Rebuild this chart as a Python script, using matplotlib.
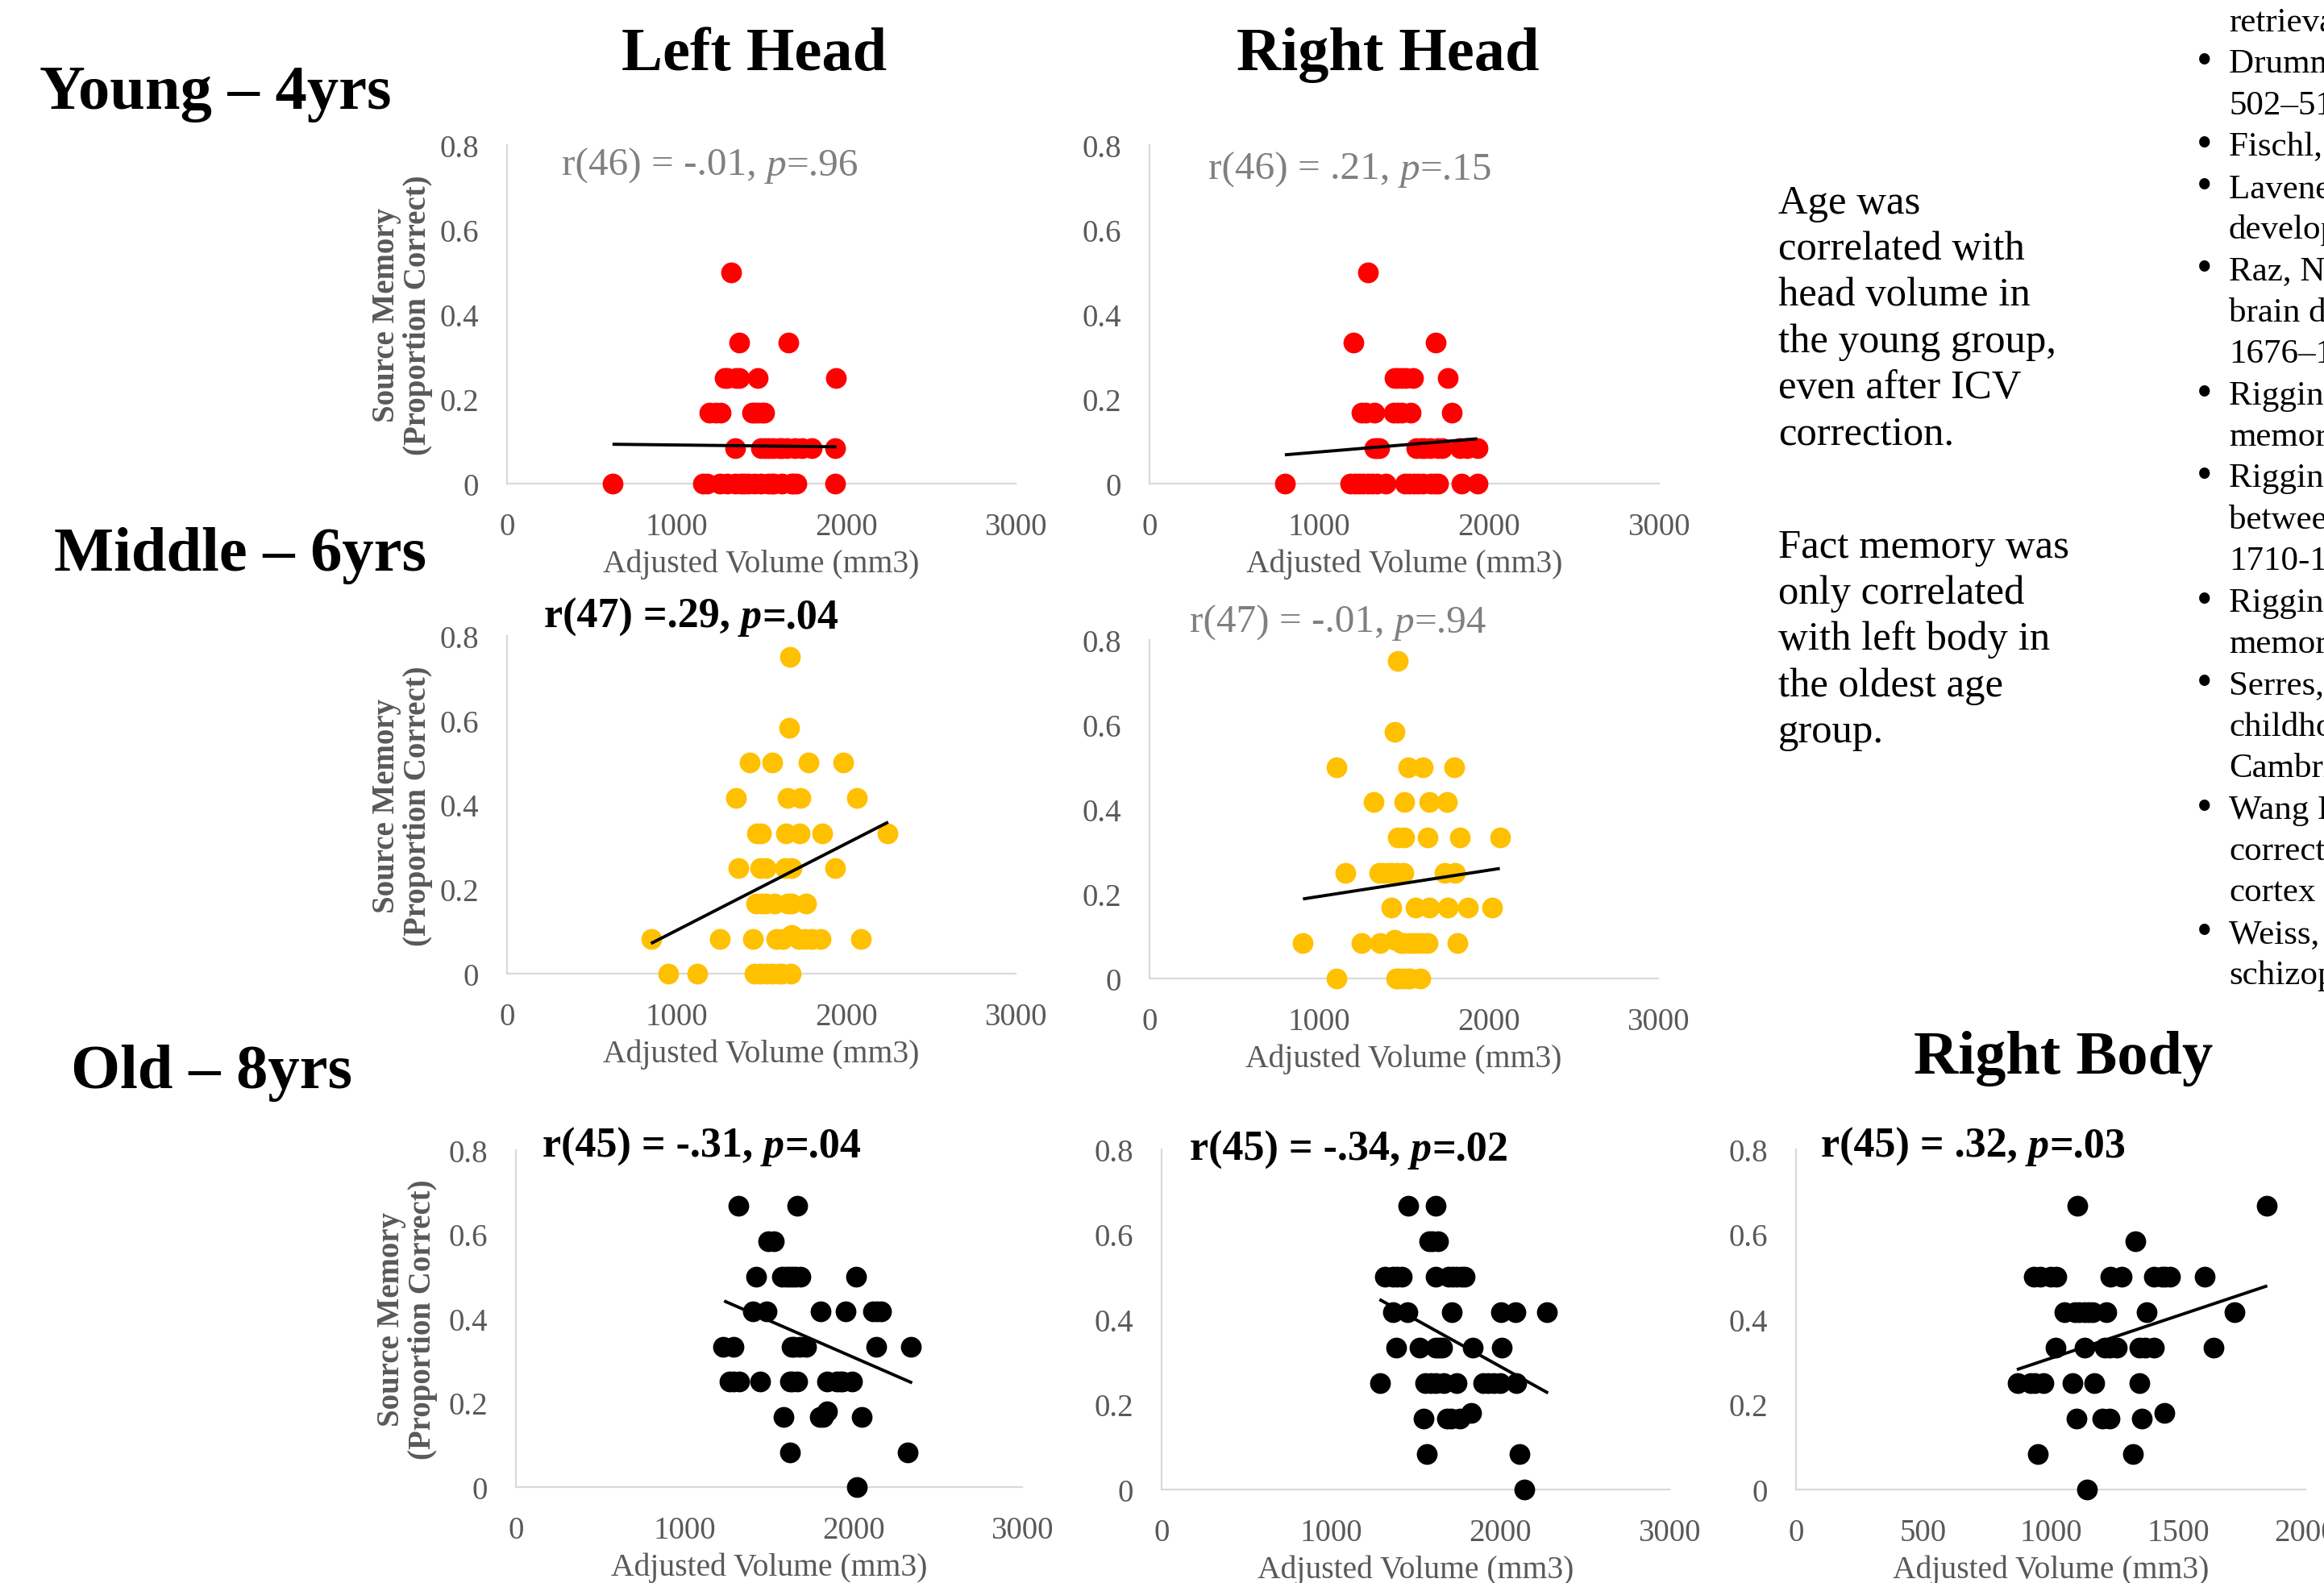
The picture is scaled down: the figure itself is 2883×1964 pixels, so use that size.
import matplotlib

matplotlib.use("Agg")

import matplotlib.pyplot as plt

W, H = 2883, 1965
DPI = 100

plt.rcParams["font.family"] = ["Liberation Serif", "DejaVu Serif"]

TICK_GRAY = "#595959"
STAT_GRAY = "#808080"
SPINE_GRAY = "#d9d9d9"
RED = "#ff0000"
GOLD = "#ffc000"
BLACK = "#000000"

# ---- data (x = adjusted volume mm3, y = source memory proportion correct) ----
young_lh_x = [1323,
              1367, 1658,
              1282, 1300, 1350, 1370, 1478, 1942,
              1194, 1230, 1261, 1447, 1460, 1478, 1500, 1517,
              1344, 1499, 1520, 1545, 1570, 1607, 1620, 1650, 1695, 1740, 1798, 1937,
              622, 1156, 1180, 1256, 1300, 1344, 1380, 1400, 1421, 1460, 1499, 1540, 1560,
              1576, 1620, 1679, 1690, 1705, 1937]
young_lh_y = [0.5,
              0.333, 0.333,
              0.25, 0.25, 0.25, 0.25, 0.25, 0.25,
              0.167, 0.167, 0.167, 0.167, 0.167, 0.167, 0.167, 0.167,
              0.083, 0.083, 0.083, 0.083, 0.083, 0.083, 0.083, 0.083, 0.083, 0.083, 0.083, 0.083,
              0, 0, 0, 0, 0, 0, 0, 0, 0, 0, 0, 0, 0,
              0, 0, 0, 0, 0, 0]
young_lh_fit_x = [622, 1942]
young_lh_fit_y = [0.093, 0.087]

young_rh_x = [1286,
              1199, 1687,
              1441, 1460, 1487, 1510, 1551, 1757,
              1248, 1270, 1325, 1436, 1460, 1487, 1538, 1782,
              1325, 1340, 1351, 1569, 1600, 1621, 1650, 1700, 1724, 1827, 1870, 1930,
              797, 1183, 1210, 1235, 1260, 1286, 1310, 1338, 1389, 1505, 1530, 1556, 1580,
              1608, 1659, 1680, 1698, 1839, 1930]
young_rh_y = [0.5,
              0.333, 0.333,
              0.25, 0.25, 0.25, 0.25, 0.25, 0.25,
              0.167, 0.167, 0.167, 0.167, 0.167, 0.167, 0.167, 0.167,
              0.083, 0.083, 0.083, 0.083, 0.083, 0.083, 0.083, 0.083, 0.083, 0.083, 0.083, 0.083,
              0, 0, 0, 0, 0, 0, 0, 0, 0, 0, 0, 0, 0,
              0, 0, 0, 0, 0, 0]
young_rh_fit_x = [797, 1930]
young_rh_fit_y = [0.068, 0.106]

mid_lh_x = [1667,
            1662,
            1430, 1564, 1778, 1982,
            1352, 1654, 1732, 2062,
            1474, 1499, 1646, 1724, 1861, 2243,
            1365, 1494, 1525, 1641, 1680, 1933,
            1468, 1500, 1525, 1577, 1654, 1680, 1765,
            849, 1254, 1448, 1590, 1628, 1680, 1720, 1757, 1796, 1848, 2085,
            950, 1120, 1461, 1494, 1530, 1564, 1603, 1620, 1675]
mid_lh_y = [0.75,
            0.583,
            0.5, 0.5, 0.5, 0.5,
            0.417, 0.417, 0.417, 0.417,
            0.333, 0.333, 0.333, 0.333, 0.333, 0.333,
            0.25, 0.25, 0.25, 0.25, 0.25, 0.25,
            0.167, 0.167, 0.167, 0.167, 0.167, 0.167, 0.167,
            0.083, 0.083, 0.083, 0.083, 0.083, 0.092, 0.083, 0.083, 0.083, 0.083, 0.083,
            0, 0, 0, 0, 0, 0, 0, 0, 0]
mid_lh_fit_x = [849, 2248]
mid_lh_fit_y = [0.0715, 0.359]

mid_rh_x = [1465,
            1444,
            1104, 1527, 1612, 1798,
            1323, 1501, 1651, 1754,
            1465, 1501, 1638, 1831, 2066,
            1156, 1354, 1380, 1410, 1432, 1460, 1496, 1741, 1800,
            1424, 1568, 1651, 1759, 1878, 2020,
            905, 1251, 1362, 1444, 1483, 1500, 1535, 1560, 1586, 1610, 1638, 1818,
            1101, 1457, 1470, 1496, 1520, 1535, 1599]
mid_rh_y = [0.75,
            0.583,
            0.5, 0.5, 0.5, 0.5,
            0.417, 0.417, 0.417, 0.417,
            0.333, 0.333, 0.333, 0.333, 0.333,
            0.25, 0.25, 0.25, 0.25, 0.25, 0.25, 0.25, 0.25, 0.25,
            0.167, 0.167, 0.167, 0.167, 0.167, 0.167,
            0.083, 0.083, 0.083, 0.092, 0.083, 0.083, 0.083, 0.083, 0.083, 0.083, 0.083, 0.083,
            0, 0, 0, 0, 0, 0, 0]
mid_rh_fit_x = [905, 2066]
mid_rh_fit_y = [0.188, 0.260]

old_a_x = [1317, 1666,
           1495, 1530,
           1422, 1578, 1600, 1618, 1640, 1658, 1685, 2015,
           1403, 1484, 1806, 1953, 2114, 2140, 2163,
           1229, 1291, 1632, 1650, 1680, 1720, 2136, 2342,
           1264, 1290, 1323, 1449, 1623, 1640, 1666, 1846, 1899, 1920, 1934, 1990,
           1586, 1800, 1820, 2047,
           1846,
           1626, 2321,
           2020]
old_a_y = [0.667, 0.667,
           0.583, 0.583,
           0.5, 0.5, 0.5, 0.5, 0.5, 0.5, 0.5, 0.5,
           0.417, 0.417, 0.417, 0.417, 0.417, 0.417, 0.417,
           0.333, 0.333, 0.333, 0.333, 0.333, 0.333, 0.333, 0.333,
           0.25, 0.25, 0.25, 0.25, 0.25, 0.25, 0.25, 0.25, 0.25, 0.25, 0.25, 0.25,
           0.167, 0.167, 0.167, 0.167,
           0.18,
           0.083, 0.083,
           0]
old_a_fit_x = [1234, 2348]
old_a_fit_y = [0.442, 0.2475]

old_b_x = [1455, 1620,
           1579, 1600, 1632,
           1317, 1365, 1390, 1421, 1620, 1693, 1720, 1742, 1770, 1790,
           1365, 1450, 1712, 2004, 2089, 2278,
           1385, 1523, 1620, 1640, 1657, 1839, 2011,
           1292, 1559, 1590, 1620, 1669, 1742, 1899, 1930, 1960, 2000, 2094,
           1547, 1686, 1710, 1761,
           1827,
           1567, 2113,
           2142]
old_b_y = [0.667, 0.667,
           0.583, 0.583, 0.583,
           0.5, 0.5, 0.5, 0.5, 0.5, 0.5, 0.5, 0.5, 0.5, 0.5,
           0.417, 0.417, 0.417, 0.417, 0.417, 0.417,
           0.333, 0.333, 0.333, 0.333, 0.333, 0.333, 0.333,
           0.25, 0.25, 0.25, 0.25, 0.25, 0.25, 0.25, 0.25, 0.25, 0.25, 0.25,
           0.167, 0.167, 0.167, 0.167,
           0.18,
           0.083, 0.083,
           0]
old_b_fit_x = [1287, 2283]
old_b_fit_y = [0.447, 0.227]

old_c_x = [1106, 1847,
           1333,
           934, 960, 1000, 1023, 1234, 1277, 1406, 1437, 1450, 1469, 1606,
           1055, 1094, 1110, 1133, 1150, 1164, 1219, 1378, 1722,
           1019, 1133, 1211, 1230, 1258, 1347, 1370, 1406, 1638,
           870, 920, 938, 972, 1086, 1172, 1348,
           1102, 1203, 1231, 1359,
           1445,
           948, 1323,
           1141]
old_c_y = [0.667, 0.667,
           0.583,
           0.5, 0.5, 0.5, 0.5, 0.5, 0.5, 0.5, 0.5, 0.5, 0.5, 0.5,
           0.417, 0.417, 0.417, 0.417, 0.417, 0.417, 0.417, 0.417, 0.417,
           0.333, 0.333, 0.333, 0.333, 0.333, 0.333, 0.333, 0.333, 0.333,
           0.25, 0.25, 0.25, 0.25, 0.25, 0.25, 0.25,
           0.167, 0.167, 0.167, 0.167,
           0.18,
           0.083, 0.083,
           0]
old_c_fit_x = [867, 1850]
old_c_fit_y = [0.282, 0.479]

y_ticks = [0, 0.2, 0.4, 0.6, 0.8]
y_tick_labels = ["0", "0.2", "0.4", "0.6", "0.8"]
x_ticks_3000 = [0, 1000, 2000, 3000]
x_ticks_2000 = [0, 500, 1000, 1500, 2000]

x_label = "Adjusted Volume (mm3)"
y_label = "Source Memory\n(Proportion Correct)"

# (x, y, fit_x, fit_y, colour, xmax, xticks, stat parts, stat colour, stat weight,
#  axes box in px: left, right, top(0.8), bottom(0), stat left px, stat baseline px)
panels = [
    (young_lh_x, young_lh_y, young_lh_fit_x, young_lh_fit_y, RED, 3000, x_ticks_3000,
     ["r(46) = -.01,", "p", "=.96"], STAT_GRAY, "normal", (629, 1260, 181, 601), (697, 218)),
    (young_rh_x, young_rh_y, young_rh_fit_x, young_rh_fit_y, RED, 3000, x_ticks_3000,
     ["r(46) = .21,", "p", "=.15"], STAT_GRAY, "normal", (1426, 2058, 181, 601), (1499, 223)),
    (mid_lh_x, mid_lh_y, mid_lh_fit_x, mid_lh_fit_y, GOLD, 3000, x_ticks_3000,
     ["r(47) =.29,", "p", "=.04"], BLACK, "bold", (629, 1260, 790, 1209), (675, 779)),
    (mid_rh_x, mid_rh_y, mid_rh_fit_x, mid_rh_fit_y, GOLD, 3000, x_ticks_3000,
     ["r(47) = -.01,", "p", "=.94"], STAT_GRAY, "normal", (1426, 2057, 795, 1215), (1476, 785)),
    (old_a_x, old_a_y, old_a_fit_x, old_a_fit_y, BLACK, 3000, x_ticks_3000,
     ["r(45) = -.31,", "p", "=.04"], BLACK, "bold", (640, 1268, 1428, 1846), (673, 1436)),
    (old_b_x, old_b_y, old_b_fit_x, old_b_fit_y, BLACK, 3000, x_ticks_3000,
     ["r(45) = -.34,", "p", "=.02"], BLACK, "bold", (1441, 2071, 1427, 1849), (1476, 1440)),
    (old_c_x, old_c_y, old_c_fit_x, old_c_fit_y, BLACK, 2000, x_ticks_2000,
     ["r(45) = .32,", "p", "=.03"], BLACK, "bold", (2228, 2860, 1427, 1849), (2259, 1436)),
]

ylabel_pos = [(499, 391), (499, 1000), (505, 1637)]

headings = [
    ("Young – 4yrs", 49, 135, "left"),
    ("Left Head", 936, 87, "center"),
    ("Right Head", 1722, 87, "center"),
    ("Middle – 6yrs", 67, 708, "left"),
    ("Old – 8yrs", 88, 1350, "left"),
    ("Right Body", 2560, 1332, "center"),
]

note_lines_1 = ["Age was", "correlated with", "head volume in", "the young group,",
                "even after ICV", "correction."]
note_lines_2 = ["Fact memory was", "only correlated", "with left body in",
                "the oldest age", "group."]

ref_lines = [
    (False, "retrieval"),
    (True, "Drummey, A. B."),
    (False, "502–515."),
    (True, "Fischl, B."),
    (True, "Lavenex, P."),
    (False, "development"),
    (True, "Raz, N."),
    (False, "brain development"),
    (False, "1676–1689."),
    (True, "Riggins, T."),
    (False, "memory"),
    (True, "Riggins, T."),
    (False, "between"),
    (False, "1710-1722."),
    (True, "Riggins, T."),
    (False, "memory"),
    (True, "Serres, L."),
    (False, "childhood"),
    (False, "Cambridge"),
    (True, "Wang L."),
    (False, "correction"),
    (False, "cortex"),
    (True, "Weiss, A."),
    (False, "schizophrenia"),
]


def fx(x):
    return x / W


def fy(y):
    return 1 - y / H


def main():
    fig = plt.figure(figsize=(W / DPI, H / DPI), dpi=DPI, facecolor="white")
    renderer = fig.canvas.get_renderer()

    for (xs, ys, fit_x, fit_y, color, xmax, xticks, stat, stat_color, stat_weight,
         box, stat_pos) in panels:
        left, right, top, bottom = box
        ax = fig.add_axes([fx(left), fy(bottom), (right - left) / W, (bottom - top) / H])
        ax.scatter(xs, ys, s=345, color=color, linewidths=0, zorder=3, clip_on=False)
        ax.plot(fit_x, fit_y, color=BLACK, linewidth=2.8, zorder=4, solid_capstyle="butt")
        ax.set_xlim(0, xmax)
        ax.set_ylim(0, 0.8)
        ax.set_xticks(xticks)
        ax.set_xticklabels([str(t) for t in xticks])
        ax.set_yticks(y_ticks)
        ax.set_yticklabels(y_tick_labels)
        ax.tick_params(axis="both", length=0, labelsize=28, labelcolor=TICK_GRAY)
        ax.tick_params(axis="x", pad=25)
        ax.tick_params(axis="y", pad=25)
        for side in ("top", "right"):
            ax.spines[side].set_visible(False)
        for side in ("left", "bottom"):
            ax.spines[side].set_color(SPINE_GRAY)
            ax.spines[side].set_linewidth(1.6)
        ax.patch.set_alpha(0)

        fig.text(fx((left + right) / 2), fy(bottom + 99), x_label, fontsize=28.5,
                 color=TICK_GRAY, ha="center", va="center")

        # stat line, italic p
        stat_size = 37.5 if stat_weight == "bold" else 35.5
        space_px = stat_size * DPI / 72 * 0.25
        x, y = stat_pos
        styles = ["normal", "italic", "normal"]
        for i, (chunk, style) in enumerate(zip(stat, styles)):
            t = fig.text(fx(x), fy(y), chunk, fontsize=stat_size, color=stat_color,
                         fontweight=stat_weight, fontstyle=style, ha="left", va="baseline")
            x = t.get_window_extent(renderer).x1
            if i == 0:
                x += space_px

    for (x, y) in ylabel_pos:
        fig.text(fx(x), fy(y), y_label, fontsize=28, fontweight="bold", color=TICK_GRAY,
                 rotation=90, ha="center", va="center", linespacing=1.05,
                 multialignment="center")

    for text, x, y, ha in headings:
        size = 55 if ha == "center" else 56.5
        fig.text(fx(x), fy(y), text, fontsize=size, fontweight="bold", color=BLACK,
                 ha=ha, va="baseline")

    for i, line in enumerate(note_lines_1):
        fig.text(fx(2206), fy(265 + 57.2 * i), line, fontsize=36.5, color=BLACK,
                 ha="left", va="baseline")
    for i, line in enumerate(note_lines_2):
        fig.text(fx(2206), fy(692 + 57.2 * i), line, fontsize=36.5, color=BLACK,
                 ha="left", va="baseline")

    for i, (bullet, line) in enumerate(ref_lines):
        yb = 39 + 51.4 * i
        if bullet:
            fig.text(fx(2735), fy(yb + 2), "•", fontsize=40, color=BLACK, ha="center",
                     va="baseline")
        fig.text(fx(2765), fy(yb), line, fontsize=31, color=BLACK, ha="left",
                 va="baseline")

    fig.savefig("out.png", dpi=DPI)
    plt.close(fig)


if __name__ == "__main__":
    main()
